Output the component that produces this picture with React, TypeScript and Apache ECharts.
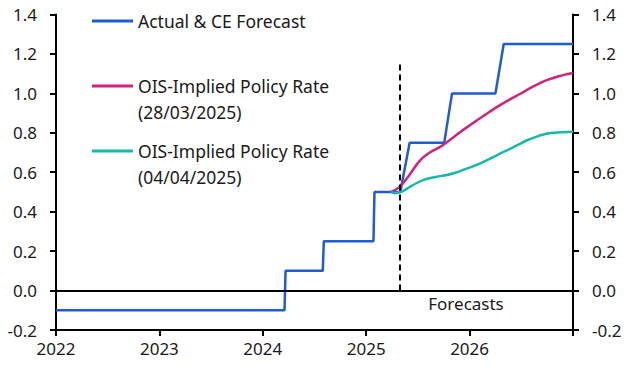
import React, { useEffect, useRef } from "react";
import * as echarts from "echarts";

const yearTicks = [2022, 2023, 2024, 2025, 2026, 2027];
const seriesNames = [
  "Actual & CE Forecast",
  "OIS-Implied Policy Rate\n(28/03/2025)",
  "OIS-Implied Policy Rate\n(04/04/2025)",
];
const colors = ["#1F5BD2", "#D3227B", "#16B8A8"];

// Actual & CE forecast (x = fractional year, y = %)
const actualX = [2022.0, 2024.21, 2024.22, 2024.58, 2024.59, 2025.07, 2025.08, 2025.33, 2025.42, 2025.755, 2025.83, 2026.25, 2026.33, 2027.0];
const actualY = [-0.1, -0.1, 0.1, 0.1, 0.25, 0.25, 0.5, 0.5, 0.75, 0.75, 1.0, 1.0, 1.25, 1.25];

// OIS-implied 28/03/2025
const ois1X = [2025.24, 2025.28, 2025.33, 2025.38, 2025.43, 2025.49, 2025.55, 2025.6, 2025.65, 2025.72, 2025.78, 2025.85, 2025.91, 2025.99, 2026.07, 2026.18, 2026.29, 2026.39, 2026.49, 2026.58, 2026.68, 2026.76, 2026.84, 2026.92, 2027.0];
const ois1Y = [0.5, 0.51, 0.53, 0.56, 0.595, 0.64, 0.675, 0.695, 0.711, 0.73, 0.752, 0.78, 0.804, 0.834, 0.863, 0.902, 0.939, 0.97, 0.998, 1.025, 1.052, 1.07, 1.083, 1.095, 1.103];

// OIS-implied 04/04/2025
const ois2X = [2025.24, 2025.27, 2025.31, 2025.36, 2025.42, 2025.48, 2025.55, 2025.62, 2025.7, 2025.78, 2025.85, 2025.91, 2025.97, 2026.07, 2026.17, 2026.26, 2026.36, 2026.46, 2026.55, 2026.65, 2026.74, 2026.85, 2027.0];
const ois2Y = [0.5, 0.494, 0.497, 0.506, 0.525, 0.543, 0.56, 0.571, 0.579, 0.586, 0.596, 0.606, 0.618, 0.637, 0.661, 0.686, 0.711, 0.737, 0.761, 0.781, 0.795, 0.802, 0.805];

const forecastStart = 2025.32;
const forecastLineTop = 1.16;
const forecastLabel = "Forecasts";

const FONT = "'Noto Sans', 'Open Sans', sans-serif";

export default function App() {
  const ref = useRef<HTMLDivElement>(null);
  useEffect(() => {
    document.body.style.margin = "0";
    if (!ref.current) return;
    const chart = echarts.init(ref.current, null, { renderer: "svg" });
    const zip = (xs: number[], ys: number[]) => xs.map((x, i) => [x, ys[i]]);
    const axisCommon = {
      min: -0.2,
      max: 1.4,
      interval: 0.2,
      axisLine: { show: true, lineStyle: { color: "#000", width: 2 } },
      axisTick: { show: true, length: 6, lineStyle: { color: "#000", width: 2 } },
      splitLine: { show: false },
      axisLabel: {
        color: "#1a1a1a",
        fontSize: 17,
        fontFamily: FONT,
        margin: 19,
        formatter: (v: number) => v.toFixed(1),
      },
    };
    const legendY = [21, 86, 151];
    const graphics: any[] = [];
    seriesNames.forEach((name, i) => {
      graphics.push({
        type: "line",
        shape: { x1: 92, y1: legendY[i], x2: 133, y2: legendY[i] },
        style: { stroke: colors[i], lineWidth: 3 },
      });
      graphics.push({
        type: "text",
        x: 138,
        y: legendY[i] - 13,
        style: {
          text: name,
          font: `17.5px ${FONT}`,
          fill: "#1a1a1a",
          lineHeight: 26,
          verticalAlign: "top",
          align: "left",
        },
      });
    });
    graphics.push({
      type: "text",
      x: 466,
      y: 303,
      style: {
        text: forecastLabel,
        font: `17px ${FONT}`,
        fill: "#1a1a1a",
        align: "center",
        verticalAlign: "middle",
      },
    });

    chart.setOption({
      animation: false,
      grid: { left: 56, right: 57, top: 14.5, bottom: 39 },
      xAxis: {
        type: "value",
        min: 2022,
        max: 2027,
        interval: 1,
        axisLine: { show: true, onZero: false, lineStyle: { color: "#000", width: 2 } },
        axisTick: { show: true, length: 6, lineStyle: { color: "#000", width: 2 } },
        splitLine: { show: false },
        axisLabel: {
          color: "#1a1a1a",
          fontSize: 17,
          fontFamily: FONT,
          margin: 10,
          formatter: (v: number) => (v === yearTicks[yearTicks.length - 1] ? "" : String(v)),
        },
      },
      yAxis: [
        { type: "value", position: "left", ...axisCommon },
        { type: "value", position: "right", ...axisCommon },
      ],
      graphic: graphics,
      series: [
        {
          name: seriesNames[0],
          type: "line",
          data: zip(actualX, actualY),
          showSymbol: false,
          lineStyle: { color: colors[0], width: 2.5 },
          z: 2,
          markLine: {
            silent: true,
            symbol: "none",
            label: { show: false },
            lineStyle: { color: "#000", width: 2, type: "solid" },
            data: [{ yAxis: 0 }],
          },
        },
        {
          name: seriesNames[1],
          type: "line",
          data: zip(ois1X, ois1Y),
          showSymbol: false,
          smooth: 0.3,
          lineStyle: { color: colors[1], width: 2.5 },
          z: 3,
        },
        {
          name: seriesNames[2],
          type: "line",
          data: zip(ois2X, ois2Y),
          showSymbol: false,
          smooth: 0.3,
          lineStyle: { color: colors[2], width: 2.5 },
          z: 4,
          markLine: {
            silent: true,
            symbol: "none",
            label: { show: false },
            lineStyle: { color: "#000", width: 2, type: [6, 4] },
            data: [[{ coord: [forecastStart, 0] }, { coord: [forecastStart, forecastLineTop] }]],
          },
        },
      ],
    });
    return () => chart.dispose();
  }, []);
  return <div ref={ref} style={{ width: 630, height: 369 }} />;
}
